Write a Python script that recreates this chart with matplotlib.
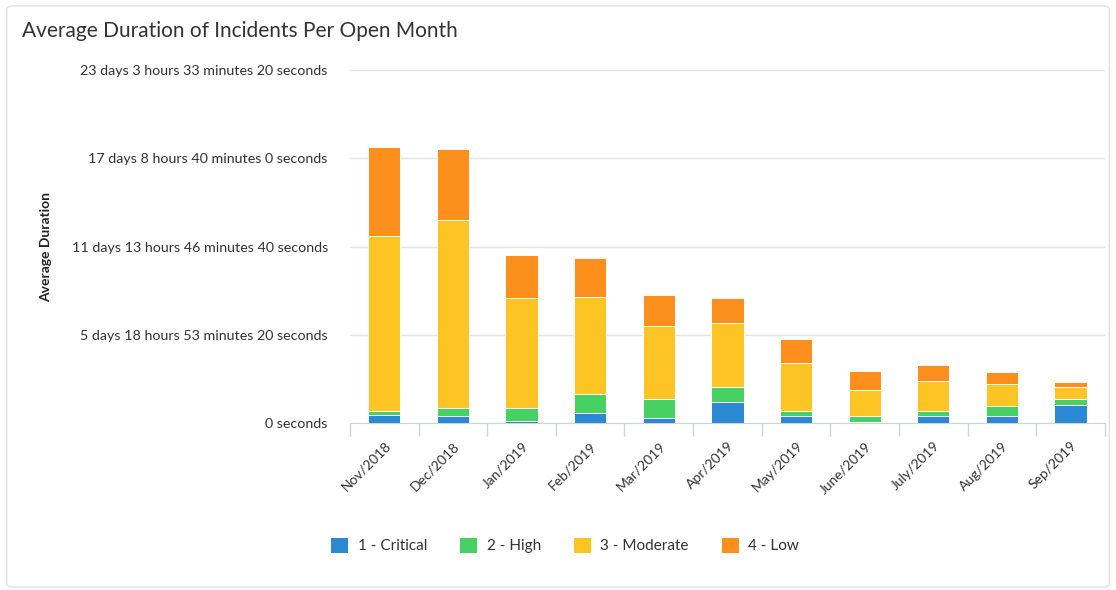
import matplotlib
matplotlib.use("Agg")
import matplotlib.pyplot as plt
from matplotlib.patches import FancyBboxPatch
from matplotlib.ticker import FuncFormatter, FixedLocator
import numpy as np

months = ["Nov/2018", "Dec/2018", "Jan/2019", "Feb/2019", "Mar/2019", "Apr/2019",
          "May/2019", "June/2019", "July/2019", "Aug/2019", "Sep/2019"]
# average duration in seconds per priority
critical = [45300, 39700, 11300, 56700, 28300, 119000, 39700, 5700, 39700, 39700, 102000]
high = [22700, 45300, 73700, 107700, 107700, 85000, 28300, 34000, 28300, 56700, 34000]
moderate = [991500, 1065200, 623300, 549600, 413600, 362600, 272000, 147300, 170000, 124700, 68000]
low = [504300, 402300, 243600, 221000, 175600, 141700, 136000, 107700, 90700, 68000, 28300]
yticks = [0, 500000, 1000000, 1500000, 2000000]

series = [("1 - Critical", critical, "#2b88d2"),
          ("2 - High", high, "#48d163"),
          ("3 - Moderate", moderate, "#fcc524"),
          ("4 - Low", low, "#fd901d")]

plt.rcParams['font.family'] = ['Lato', 'DejaVu Sans']

def fmt_dur(v, pos=None):
    s = int(round(v))
    if s == 0:
        return "0 seconds"
    d, s = divmod(s, 86400)
    h, s = divmod(s, 3600)
    m, s = divmod(s, 60)
    return "%d days %d hours %d minutes %d seconds" % (d, h, m, s)

fig = plt.figure(figsize=(11.16, 5.9), dpi=100)
fig.patches.append(FancyBboxPatch((0.006, 0.005), 0.988, 0.985, boxstyle="round,pad=0,rounding_size=0.006",
                                  transform=fig.transFigure, fc="white", ec="#e2e2e2", lw=1.0, zorder=-1))
ax = fig.add_axes([0.3136, 0.283, 0.6764, 0.598])
ax.set_facecolor("none")

x = np.arange(len(months))
bottom = np.zeros(len(months))
handles = []
for name, vals, col in series:
    b = ax.bar(x, vals, width=0.47, bottom=bottom, color=col, edgecolor="white",
               linewidth=0.7, label=name, zorder=3)
    handles.append(b)
    bottom += np.array(vals)

ax.set_xlim(-0.5, len(months) - 0.5)
ax.set_ylim(0, 2000000)
ax.set_yticks(yticks)
ax.yaxis.set_major_formatter(FuncFormatter(fmt_dur))
ax.grid(axis="y", color="#e3e3e8", lw=1, zorder=0)
for sp in ["top", "right", "left"]:
    ax.spines[sp].set_visible(False)
ax.spines["bottom"].set_color("#cfd3dc")
ax.tick_params(axis="y", length=0, pad=16, labelsize=10.3, labelcolor="#333333")

ax.set_xticks(x)
ax.set_xticklabels(months, rotation=45, ha="right", rotation_mode="anchor",
                   fontsize=10, color="#333333")
ax.tick_params(axis="x", which="major", length=0, pad=12)
ax.xaxis.set_minor_locator(FixedLocator(np.arange(-0.5, len(months), 1.0)))
ax.tick_params(axis="x", which="minor", length=9, color="#cfd3dc", width=1)

ax.set_ylabel("Average Duration", fontsize=10, color="#222222", fontweight="bold")
ax.yaxis.set_label_coords(-0.395, 0.5)

fig.text(0.02, 0.947, "Average Duration of Incidents Per Open Month", fontsize=15,
         color="#333333", va="center", ha="left")

leg = fig.legend(handles=handles, loc="center", bbox_to_anchor=(0.506, 0.076), ncol=4,
                 frameon=False, fontsize=11, handlelength=1.2, handleheight=1.3,
                 columnspacing=2.1, handletextpad=0.6)
for t in leg.get_texts():
    t.set_color("#333333")

fig.savefig("out.png", dpi=100)
